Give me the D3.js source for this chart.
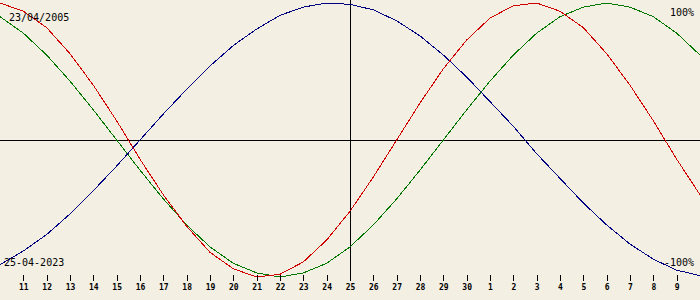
<!DOCTYPE html>
<html>
<head>
<meta charset="utf-8">
<script src="https://cdn.jsdelivr.net/npm/d3@7"></script>
<style>
  body { margin: 0; background: #f3efe3; }
  svg { display: block; }
</style>
</head>
<body>
<svg width="700" height="300"></svg>
<script>
// days shown: 10 April .. 10 May
var days = d3.range(10, 41)
var tickDays = d3.range(11, 40)
var tickLabels = ['11','12','13','14','15','16','17','18','19','20','21','22','23','24','25','26','27','28','29','30',
  '1','2','3','4','5','6','7','8','9']

// values in %, one per day
var physical = [100, 94, 82, 63, 40, 14, -14, -40, -63, -82, -94, -100, -98, -89, -73, -52, -27, 0,
  27, 52, 73, 89, 98, 100, 94, 82, 63, 40, 14, -14, -40]
var emotional = [90, 78, 62, 43, 22, 0, -22, -43, -62, -78, -90, -97, -100, -97, -90, -78, -62, -43,
  -22, 0, 22, 43, 62, 78, 90, 97, 100, 97, 90, 78, 62]
var intellectual = [-91, -81, -69, -54, -37, -19, 0, 19, 37, 54, 69, 81, 91, 97, 100, 99, 95, 87,
  76, 62, 46, 28, 10, -10, -28, -46, -62, -76, -87, -95, -99]

var birthLabel = '23/04/2005'
var dateLabel = '25-04-2023'
var today = 25

const svg = d3.select('svg')

let xScale = d3.scaleLinear().domain([10, 40]).range([0, 700])
let yScale = d3.scaleLinear().domain([-100, 100]).range([277, 3])

svg.append('rect').attr('width', 700).attr('height', 300).attr('fill', '#f3efe3')

// center line and today line
svg.append('line')
  .attr('x1', 0).attr('x2', 700)
  .attr('y1', 140.5).attr('y2', 140.5)
  .attr('stroke', '#000').attr('shape-rendering', 'crispEdges')
svg.append('line')
  .attr('x1', xScale(today)).attr('x2', xScale(today))
  .attr('y1', 0).attr('y2', 276)
  .attr('stroke', '#000').attr('shape-rendering', 'crispEdges')

// curves
let line = d3.line().x((d, i) => xScale(days[i])).y((d) => yScale(d))
let series = [
  { values: emotional, color: '#007800' },
  { values: intellectual, color: '#000080' },
  { values: physical, color: '#d00000' },
]
svg.selectAll('path.curve')
  .data(series)
  .enter()
  .append('path')
  .attr('class', 'curve')
  .attr('d', (d) => line(d.values))
  .attr('fill', 'none')
  .attr('stroke', (d) => d.color)
  .attr('stroke-width', 1)
  .attr('shape-rendering', 'crispEdges')

// day axis
let xAxis = d3.axisBottom(xScale)
  .tickValues(tickDays)
  .tickSize(6)
  .tickFormat((d, i) => tickLabels[i])
let axisG = svg.append('g').attr('transform', 'translate(0,275)').call(xAxis)
axisG.select('.domain').remove()
axisG.selectAll('line').attr('shape-rendering', 'crispEdges').attr('stroke', '#000')
axisG.selectAll('text')
  .attr('y', 15)
  .attr('dy', 0)
  .attr('fill', '#000')
  .style('font-family', 'DejaVu Sans Mono')
  .style('font-size', '8px')
  .style('font-weight', 'bold')

// labels
let lab = (t, x, y, anchor) => svg.append('text')
  .attr('x', x).attr('y', y)
  .attr('text-anchor', anchor)
  .style('font-family', 'DejaVu Sans Mono')
  .style('font-size', '10px')
  .attr('fill', '#000')
  .text(t)
lab(birthLabel, 9, 21, 'start')
lab('100%', 694, 16, 'end')
lab(dateLabel, 4, 266, 'start')
lab('-100%', 694, 266, 'end')
</script>
</body>
</html>
